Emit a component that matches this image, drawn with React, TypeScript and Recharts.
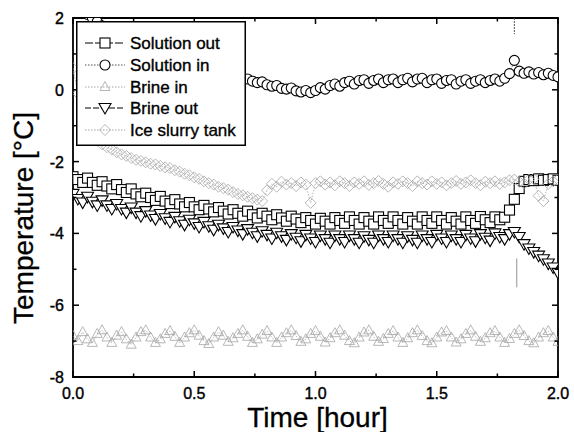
import React from 'react';
import { LineChart, Line, XAxis, YAxis, ReferenceArea, ReferenceLine, Legend } from 'recharts';

const TIME = [
  0, 0.02, 0.04, 0.06, 0.08, 0.1, 0.12, 0.14, 0.16, 0.18,
  0.2, 0.22, 0.24, 0.26, 0.28, 0.3, 0.32, 0.34, 0.36, 0.38,
  0.4, 0.42, 0.44, 0.46, 0.48, 0.5, 0.52, 0.54, 0.56, 0.58,
  0.6, 0.62, 0.64, 0.66, 0.68, 0.7, 0.72, 0.74, 0.76, 0.78,
  0.8, 0.82, 0.84, 0.86, 0.88, 0.9, 0.92, 0.94, 0.96, 0.98,
  1.0, 1.02, 1.04, 1.06, 1.08, 1.1, 1.12, 1.14, 1.16, 1.18,
  1.2, 1.22, 1.24, 1.26, 1.28, 1.3, 1.32, 1.34, 1.36, 1.38,
  1.4, 1.42, 1.44, 1.46, 1.48, 1.5, 1.52, 1.54, 1.56, 1.58,
  1.6, 1.62, 1.64, 1.66, 1.68, 1.7, 1.72, 1.74, 1.76, 1.78,
  1.8, 1.82, 1.84, 1.86, 1.88, 1.9, 1.92, 1.94, 1.96, 1.98, 2.0,
];

const SOLUTION_OUT = [
  -2.42, -2.5, -2.58, -2.46, -2.58, -2.66, -2.56, -2.68, -2.76, -2.64,
  -2.78, -2.86, -2.76, -2.9, -2.98, -2.88, -3.0, -3.08, -2.97, -3.1,
  -3.17, -3.06, -3.18, -3.26, -3.14, -3.26, -3.34, -3.22, -3.32, -3.4,
  -3.28, -3.38, -3.46, -3.34, -3.44, -3.52, -3.38, -3.48, -3.57, -3.44,
  -3.52, -3.62, -3.48, -3.57, -3.66, -3.52, -3.6, -3.7, -3.56, -3.64,
  -3.74, -3.58, -3.66, -3.74, -3.56, -3.64, -3.72, -3.54, -3.64, -3.74,
  -3.56, -3.66, -3.74, -3.54, -3.64, -3.72, -3.54, -3.64, -3.74, -3.56,
  -3.66, -3.74, -3.54, -3.64, -3.72, -3.54, -3.64, -3.74, -3.56, -3.66,
  -3.74, -3.54, -3.64, -3.72, -3.53, -3.62, -3.7, -3.54, -3.62, -3.55,
  -3.35, -3.05, -2.75, -2.55, -2.5, -2.53, -2.48, -2.52, -2.5, -2.48, -2.52,
];

const SOLUTION_IN = [
  2.4, 2.3, 2.2, 2.1, 2.0, 1.9, 1.78, 1.66, 1.55, 1.45,
  1.35, 1.25, 1.16, 1.08, 1.0, 0.93, 0.86, 0.8, 0.74, 0.69,
  0.64, 0.6, 0.56, 0.52, 0.49, 0.46, 0.44, 0.42, 0.4, 0.38,
  0.36, 0.34, 0.33, 0.31, 0.3, 0.28, 0.3, 0.24, 0.2, 0.22,
  0.14, 0.1, 0.12, 0.04, 0.02, 0.05, -0.03, -0.06, -0.02, -0.08,
  -0.02, 0.06, 0.02, 0.12, 0.16, 0.1, 0.2, 0.24, 0.16, 0.26,
  0.28, 0.18, 0.26, 0.3, 0.2, 0.28, 0.3, 0.2, 0.28, 0.32,
  0.22, 0.3, 0.32, 0.2, 0.28, 0.3, 0.18, 0.26, 0.28, 0.16,
  0.24, 0.28, 0.18, 0.24, 0.28, 0.2, 0.26, 0.3, 0.24, 0.32,
  0.45, 0.82, 0.52, 0.46, 0.5, 0.44, 0.48, 0.42, 0.46, 0.4, 0.36,
];

const BRINE_IN = [
  -6.85, -7.0, -6.75, -6.95, -7.05, -6.8, -6.7, -6.9, -7.05, -6.85,
  -6.75, -6.95, -7.1, -6.9, -6.75, -6.7, -6.9, -7.05, -6.95, -6.8,
  -6.72, -6.88, -7.05, -6.9, -6.78, -6.7, -6.85, -7.0, -7.08, -6.9,
  -6.75, -6.85, -7.02, -6.92, -6.8, -6.7, -6.88, -7.05, -6.95, -6.82,
  -6.72, -6.9, -7.05, -6.9, -6.78, -6.7, -6.86, -7.02, -6.95, -6.8,
  -6.72, -6.88, -7.04, -6.92, -6.78, -6.7, -6.85, -7.0, -7.06, -6.9,
  -6.76, -6.7, -6.88, -7.02, -6.94, -6.8, -6.72, -6.9, -7.05, -6.92,
  -6.78, -6.7, -6.86, -7.0, -7.06, -6.9, -6.76, -6.72, -6.9, -7.04,
  -6.95, -6.8, -6.7, -6.88, -7.02, -6.92, -6.78, -6.72, -6.9, -7.05,
  -6.94, -6.8, -6.7, -6.86, -7.0, -7.06, -6.9, -6.78, -6.72, -6.9, -7.02,
];

const BRINE_OUT = [
  -2.9, -3.04, -3.14, -2.98, -3.12, -3.22, -3.08, -3.22, -3.32, -3.18,
  -3.32, -3.42, -3.28, -3.42, -3.52, -3.38, -3.5, -3.6, -3.46, -3.58,
  -3.68, -3.54, -3.66, -3.76, -3.62, -3.72, -3.82, -3.68, -3.8, -3.9,
  -3.76, -3.86, -3.96, -3.82, -3.92, -4.02, -3.88, -3.98, -4.08, -3.94,
  -4.04, -4.14, -3.98, -4.08, -4.18, -4.02, -4.12, -4.22, -4.04, -4.14,
  -4.24, -4.06, -4.16, -4.26, -4.06, -4.16, -4.24, -4.06, -4.16, -4.26,
  -4.08, -4.18, -4.26, -4.06, -4.16, -4.24, -4.06, -4.16, -4.26, -4.08,
  -4.18, -4.26, -4.06, -4.16, -4.24, -4.04, -4.14, -4.24, -4.06, -4.16,
  -4.24, -4.04, -4.14, -4.22, -4.02, -4.12, -4.2, -4.0, -4.1, -4.16,
  -4.02, -3.96, -4.1, -4.3, -4.42, -4.52, -4.62, -4.72, -4.84, -4.95, -5.1,
];

const ICE_SLURRY = [
  0.6, -0.1, -0.6, -1.0, -1.25, -1.42, -1.52, -1.6, -1.66, -1.74,
  -1.8, -1.84, -1.9, -1.95, -1.98, -2.02, -2.06, -2.08, -2.12, -2.16,
  -2.18, -2.24, -2.28, -2.34, -2.38, -2.44, -2.48, -2.55, -2.6, -2.64,
  -2.7, -2.74, -2.78, -2.85, -2.9, -2.94, -2.98, -3.02, -3.06, -3.1,
  -2.8, -2.62, -2.7, -2.56, -2.64, -2.6, -2.68, -2.58, -2.64, -3.15,
  -2.6, -2.55, -2.64, -2.58, -2.66, -2.55, -2.6, -2.68, -2.58, -2.62,
  -2.55, -2.65, -2.6, -2.54, -2.62, -2.7, -2.58, -2.62, -2.55, -2.6,
  -2.68, -2.55, -2.6, -2.64, -2.55, -2.62, -2.58, -2.66, -2.6, -2.54,
  -2.62, -2.58, -2.52, -2.6, -2.66, -2.56, -2.6, -2.55, -2.62, -2.58,
  -2.52, -2.5, -2.56, -2.62, -2.5, -2.48, -2.95, -3.1, -2.62, -2.55, -2.5,
];

const X_TICKS = [0, 0.25, 0.5, 0.75, 1.0, 1.25, 1.5, 1.75, 2.0];
const X_LABELS = ['0.0', '', '0.5', '', '1.0', '', '1.5', '', '2.0'];
const Y_TICKS = [-8, -7, -6, -5, -4, -3, -2, -1, 0, 1, 2];
const Y_LABELS = ['-8', '', '-6', '', '-4', '', '-2', '', '0', '', '2'];

const LEGEND_NAMES = ['Solution out', 'Solution in', 'Brine in', 'Brine out', 'Ice slurry tank'];
const MARK_T = 1.83;

const FONT = '"Liberation Sans", Arial, Helvetica, sans-serif';
const W = 574;
const H = 432;
const PLOT_TOP = 18;
const PLOT_BOTTOM = 377;
const PLOT_LEFT = 73;
const PLOT_RIGHT = 558;
const GRAY = '#a4a4a4';

const toData = (vals: number[]) => TIME.map((t, i) => ({ t, v: vals[i] }));

type Shape = 'square' | 'circle' | 'up' | 'down' | 'diamond';

const marker = (shape: Shape, cx: number, cy: number, key: string) => {
  switch (shape) {
    case 'square':
      return <rect key={key} x={cx - 5} y={cy - 5} width={10} height={10} fill="#fff" stroke="#000" strokeWidth={1.1} />;
    case 'circle':
      return <circle key={key} cx={cx} cy={cy} r={5} fill="#fff" stroke="#000" strokeWidth={1.1} />;
    case 'up':
      return <polygon key={key} points={`${cx},${cy - 5.5} ${cx - 5},${cy + 3.5} ${cx + 5},${cy + 3.5}`} fill="none" stroke={GRAY} strokeWidth={0.8} />;
    case 'down':
      return <polygon key={key} points={`${cx - 6},${cy - 4.5} ${cx + 6},${cy - 4.5} ${cx},${cy + 6}`} fill="#fff" stroke="#000" strokeWidth={1.1} />;
    case 'diamond':
      return <polygon key={key} points={`${cx},${cy - 5.5} ${cx + 5.5},${cy} ${cx},${cy + 5.5} ${cx - 5.5},${cy}`} fill="none" stroke={GRAY} strokeWidth={0.8} />;
  }
};

const dotFor = (shape: Shape) => (p: any) => {
  const key = `${shape}-${p.index}`;
  if (p.cx == null || p.cy == null) return <g key={key} />;
  return marker(shape, p.cx, p.cy, key);
};

const XTick = (props: any) => {
  const { x, index } = props;
  const label = X_LABELS[index] ?? '';
  const major = label !== '';
  const len = major ? 6 : 3.5;
  return (
    <g>
      <line x1={x} x2={x} y1={PLOT_BOTTOM} y2={PLOT_BOTTOM - len} stroke="#000" strokeWidth={1.5} />
      <line x1={x} x2={x} y1={PLOT_TOP} y2={PLOT_TOP + len} stroke="#000" strokeWidth={1.5} />
      {major && (
        <text x={x} y={PLOT_BOTTOM + 22} textAnchor="middle" fontFamily={FONT} fontSize={16} fill="#000" stroke="#000" strokeWidth={0.4}>
          {label}
        </text>
      )}
    </g>
  );
};

const YTick = (props: any) => {
  const { y, index } = props;
  const label = Y_LABELS[index] ?? '';
  const major = label !== '';
  const len = major ? 6 : 3.5;
  return (
    <g>
      <line x1={PLOT_LEFT} x2={PLOT_LEFT + len} y1={y} y2={y} stroke="#000" strokeWidth={1.5} />
      <line x1={PLOT_RIGHT} x2={PLOT_RIGHT - len} y1={y} y2={y} stroke="#000" strokeWidth={1.5} />
      {major && (
        <text x={64} y={y + 6} textAnchor="end" fontFamily={FONT} fontSize={16} fill="#000" stroke="#000" strokeWidth={0.4}>
          {label}
        </text>
      )}
    </g>
  );
};

const LEGEND_STYLE: { shape: Shape; color: string; dash?: string }[] = [
  { shape: 'square', color: '#000', dash: '8 2' },
  { shape: 'circle', color: '#555', dash: '1.5 1.5' },
  { shape: 'up', color: GRAY, dash: '1.5 1.5' },
  { shape: 'down', color: '#000', dash: '6 2' },
  { shape: 'diamond', color: GRAY, dash: '1.5 1.5' },
];
const LEGEND_ROWS = [22, 44, 66, 87, 109];

const LegendBox = () => (
  <svg width={170} height={125} style={{ display: 'block' }}>
    <rect x={0.75} y={0.75} width={168.5} height={123.5} fill="#fff" stroke="#000" strokeWidth={1.5} />
    {LEGEND_NAMES.map((name, i) => {
      const s = LEGEND_STYLE[i];
      const cy = LEGEND_ROWS[i];
      return (
        <g key={name}>
          <line x1={9} x2={49} y1={cy} y2={cy} stroke={s.color} strokeWidth={1} strokeDasharray={s.dash} />
          {marker(s.shape, 29, cy, `lg-${i}`)}
          <text x={54} y={cy + 6} fontFamily={FONT} fontSize={17} fill="#000" stroke="#000" strokeWidth={0.35}>
            {name}
          </text>
        </g>
      );
    })}
  </svg>
);

export default function App() {
  return (
    <div style={{ position: 'absolute', left: 0, top: 0, width: W, height: H, background: '#fff' }}>
      <LineChart width={W} height={H} margin={{ top: PLOT_TOP, right: W - PLOT_RIGHT, bottom: 0, left: 0 }}>
        <XAxis
          type="number"
          dataKey="t"
          domain={[0, 2]}
          ticks={X_TICKS}
          interval={0}
          allowDataOverflow
          axisLine={false}
          tickLine={false}
          tickSize={0}
          tickMargin={0}
          height={H - PLOT_BOTTOM}
          tick={(p: any) => <XTick {...p} />}
          label={{
            content: () => (
              <text x={(PLOT_LEFT + PLOT_RIGHT) / 2 + 2} y={427} textAnchor="middle" fontFamily={FONT} fontSize={28} fill="#000" stroke="#000" strokeWidth={0.3}>
                Time [hour]
              </text>
            ),
          }}
        />
        <YAxis
          type="number"
          domain={[-8, 2]}
          ticks={Y_TICKS}
          interval={0}
          allowDataOverflow
          axisLine={false}
          tickLine={false}
          tickSize={0}
          tickMargin={0}
          width={PLOT_LEFT}
          tick={(p: any) => <YTick {...p} />}
          label={{
            content: () => (
              <text x={33} y={218} transform="rotate(-90 33 218)" textAnchor="middle" fontFamily={FONT} fontSize={28} fill="#000" stroke="#000" strokeWidth={0.3}>
                Temperature [°C]
              </text>
            ),
          }}
        />
        <ReferenceArea x1={0} x2={2} y1={-8} y2={2} fill="none" stroke="#000" strokeWidth={1.8} ifOverflow="visible" />
        <Line data={toData(SOLUTION_OUT)} dataKey="v" name="Solution out" stroke="#000" strokeWidth={0.8} dot={dotFor('square')} activeDot={false} isAnimationActive={false} />
        <Line data={toData(SOLUTION_IN)} dataKey="v" name="Solution in" stroke="#444" strokeWidth={0.8} strokeDasharray="1.5 1.5" dot={dotFor('circle')} activeDot={false} isAnimationActive={false} />
        <Line data={toData(BRINE_IN)} dataKey="v" name="Brine in" stroke={GRAY} strokeWidth={0.8} strokeDasharray="1.5 1.5" dot={dotFor('up')} activeDot={false} isAnimationActive={false} />
        <Line data={toData(BRINE_OUT)} dataKey="v" name="Brine out" stroke="#000" strokeWidth={0.8} strokeDasharray="5 2" dot={dotFor('down')} activeDot={false} isAnimationActive={false} />
        <Line data={toData(ICE_SLURRY)} dataKey="v" name="Ice slurry tank" stroke={GRAY} strokeWidth={0.8} strokeDasharray="1.5 1.5" dot={dotFor('diamond')} activeDot={false} isAnimationActive={false} />
        <ReferenceLine segment={[{ x: MARK_T, y: -4.7 }, { x: MARK_T, y: -5.5 }]} stroke="#777" strokeWidth={0.8} />
        <ReferenceLine segment={[{ x: MARK_T - 0.01, y: 2 }, { x: MARK_T - 0.01, y: 1.55 }]} stroke="#555" strokeWidth={1} strokeDasharray="2 1" />
        <Legend
          layout="horizontal"
          verticalAlign="middle"
          align="center"
          content={() => <LegendBox />}
          wrapperStyle={{ position: 'absolute', left: 76, top: 21, width: 170, height: 125 }}
        />
      </LineChart>
    </div>
  );
}
